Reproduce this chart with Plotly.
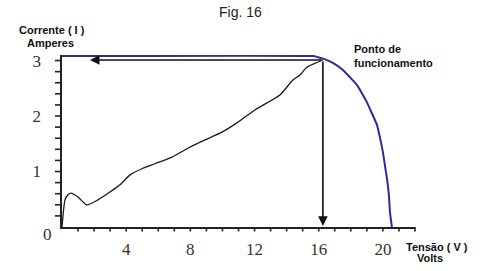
import plotly.graph_objects as go

# I-V curve (blue)
iv_v = [0, 15.64, 15.95, 16.32, 16.88, 17.51, 17.94, 18.38, 18.69, 19.0, 19.31,
        19.63, 19.81, 20.0, 20.12, 20.25, 20.37, 20.44, 20.56]
iv_i = [3.08, 3.08, 3.06, 3.03, 2.96, 2.83, 2.70, 2.56, 2.41, 2.25, 2.05,
        1.84, 1.62, 1.35, 1.12, 0.88, 0.58, 0.27, 0.0]

# black curve
bk_v = [0, 0.19, 0.37, 0.56, 1.0, 1.54, 2.24, 2.99, 3.61, 4.24, 4.98, 5.79, 6.85,
        7.85, 8.91, 9.97, 10.97, 12.02, 13.58, 14.39, 14.83, 15.26, 15.76, 16.26]
bk_i = [0, 0.49, 0.58, 0.61, 0.54, 0.40, 0.49, 0.63, 0.76, 0.94, 1.05, 1.14, 1.26,
        1.42, 1.57, 1.71, 1.89, 2.11, 2.38, 2.65, 2.74, 2.88, 2.95, 3.01]

# operating point
op_v = 16.26
op_i = 3.01
arrow_end_v = 1.74

x_ticks = list(range(1, 23))
x_labels = [str(t) if t in (4, 8, 12, 16, 20) else "" for t in x_ticks]
y_ticks = [round(0.2 * k, 1) for k in range(1, 16)]
y_labels = [str(int(round(t))) + "  " if abs(t - round(t)) < 1e-9 else "" for t in y_ticks]

W, H = 489, 271
L, R, T, B = 62, 74, 55, 44
pw, ph = W - L - R, H - T - B

def px(xp):
    return (xp - L) / pw

def py(yp):
    return (H - B - yp) / ph

fig = go.Figure()
fig.add_trace(go.Scatter(x=iv_v, y=iv_i, mode="lines",
                         line=dict(color="#2b2b9c", width=2, shape="spline", smoothing=0.4),
                         hoverinfo="skip", showlegend=False))
fig.add_trace(go.Scatter(x=bk_v, y=bk_i, mode="lines",
                         line=dict(color="#1a1a1a", width=1.3, shape="spline", smoothing=0.6),
                         hoverinfo="skip", showlegend=False))

# tick marks drawn from the tick arrays
for t in x_ticks:
    fig.add_annotation(x=t, y=0, xref="x", yref="y", ax=0, ay=6, text="",
                       showarrow=True, arrowhead=0, arrowwidth=1.6, arrowcolor="#222",
                       standoff=0, startstandoff=0)
for t in y_ticks:
    fig.add_shape(type="line", xref="paper", yref="y", x0=0, x1=-7 / pw, y0=t, y1=t,
                  line=dict(color="#222", width=1.6), layer="above")

# arrows
fig.add_annotation(x=arrow_end_v, y=op_i, ax=op_v, ay=op_i, xref="x", yref="y",
                   axref="x", ayref="y", showarrow=True, arrowhead=2, arrowsize=1.2,
                   arrowwidth=1.6, arrowcolor="#111", text="")
fig.add_annotation(x=op_v, y=0.02, ax=op_v, ay=op_i, xref="x", yref="y",
                   axref="x", ayref="y", showarrow=True, arrowhead=2, arrowsize=1.2,
                   arrowwidth=1.6, arrowcolor="#111", text="")

bold = dict(family="Liberation Sans, Arial", size=11, color="#111")
texts = [
    ("Fig. 16", 241, 12, "center", dict(family="Liberation Sans, Arial", size=14, color="#222")),
    ("<b>Corrente ( I )</b>", 52, 30, "center", bold),
    ("<b>Amperes</b>", 50, 43, "center", bold),
    ("<b>Ponto de</b>", 352, 49, "left", bold),
    ("<b>funcionamento</b>", 352, 63, "left", bold),
    ("<b>Tensão ( V )</b>", 404, 247, "left", bold),
    ("<b>Volts</b>", 430, 258, "center", bold),
    ("0", 47, 234, "center", dict(family="Liberation Serif", size=17, color="#333")),
]
for t, x, y, anc, f in texts:
    fig.add_annotation(x=px(x), y=py(y), xref="paper", yref="paper", text=t,
                       showarrow=False, xanchor=anc, yanchor="middle", font=f)

fig.update_layout(
    width=W, height=H, margin=dict(l=L, r=R, t=T, b=B),
    paper_bgcolor="white", plot_bgcolor="white",
    xaxis=dict(range=[0, 22], showgrid=False, zeroline=False, showline=True,
               linecolor="#222", linewidth=2, ticks="outside", ticklen=6,
               tickwidth=1, tickcolor="rgba(0,0,0,0)",
               tickvals=x_ticks, ticktext=x_labels,
               tickfont=dict(family="Liberation Serif", size=17, color="#333")),
    yaxis=dict(range=[0, 3.1], showgrid=False, zeroline=False, showline=True,
               linecolor="#222", linewidth=2, ticks="outside", ticklen=7,
               tickwidth=1, tickcolor="rgba(0,0,0,0)",
               tickvals=y_ticks, ticktext=y_labels,
               tickfont=dict(family="Liberation Serif", size=17, color="#333")),
)
fig.write_html("out.html")
